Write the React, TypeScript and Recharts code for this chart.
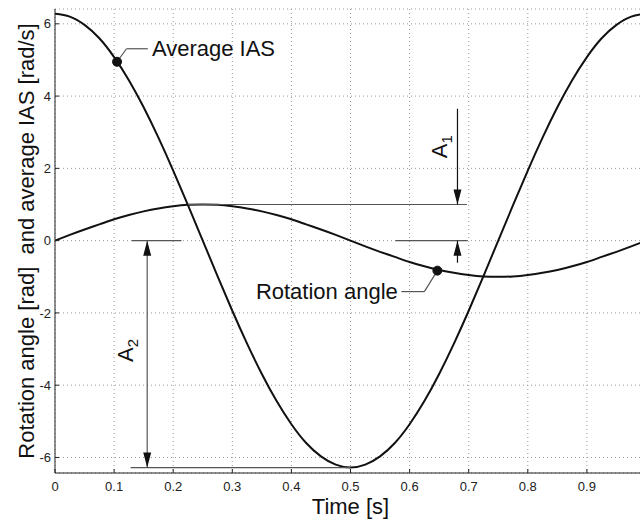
import React from 'react';
import {
  LineChart, Line, XAxis, YAxis, CartesianGrid, ReferenceLine, ReferenceDot,
} from 'recharts';

// samples, step 0.025 s
const time = [
  0, 0.025, 0.05, 0.075, 0.1, 0.125, 0.15, 0.175, 0.2, 0.225,
  0.25, 0.275, 0.3, 0.325, 0.35, 0.375, 0.4, 0.425, 0.45, 0.475,
  0.5, 0.525, 0.55, 0.575, 0.6, 0.625, 0.65, 0.675, 0.7, 0.725,
  0.75, 0.775, 0.8, 0.825, 0.85, 0.875, 0.9, 0.925, 0.95, 0.975, 1,
];
const averageIas = [
  6.28, 6.2, 5.97, 5.6, 5.08, 4.44, 3.69, 2.85, 1.94, 0.98,
  0, -0.98, -1.94, -2.85, -3.69, -4.44, -5.08, -5.6, -5.97, -6.2,
  -6.28, -6.2, -5.97, -5.6, -5.08, -4.44, -3.69, -2.85, -1.94, -0.98,
  0, 0.98, 1.94, 2.85, 3.69, 4.44, 5.08, 5.6, 5.97, 6.2, 6.28,
];
const rotationAngle = [
  0, 0.16, 0.31, 0.45, 0.59, 0.71, 0.81, 0.89, 0.95, 0.99,
  1, 0.99, 0.95, 0.89, 0.81, 0.71, 0.59, 0.45, 0.31, 0.16,
  0, -0.16, -0.31, -0.45, -0.59, -0.71, -0.81, -0.89, -0.95, -0.99,
  -1, -0.99, -0.95, -0.89, -0.81, -0.71, -0.59, -0.45, -0.31, -0.16, 0,
];

const xTicks = [0, 0.1, 0.2, 0.3, 0.4, 0.5, 0.6, 0.7, 0.8, 0.9];
const yTicks = [-6, -4, -2, 0, 2, 4, 6];

// annotation anchors (data units)
const iasMarker = { x: 0.105, y: 4.95 };
const angleMarker = { x: 0.647, y: -0.83 };
const a1 = { x: 0.681, top: 3.65, peak: 1, zero: 0, bottom: -0.61 };
const a2 = { x: 0.156, zero: 0, min: -6.28 };

const data = time.map((t, i) => ({ t, ias: averageIas[i], angle: rotationAngle[i] }));

const FONT = '"Liberation Sans", Arial, Helvetica, sans-serif';
const guide = '#555';
const ink = '#111';

const arrow = (dir: 'up' | 'down') => (p: any) => {
  const { cx, cy } = p;
  const b = dir === 'up' ? cy + 15 : cy - 15;
  return <path d={`M${cx},${cy} L${cx - 4},${b} L${cx + 4},${b} Z`} fill={ink} />;
};

const label = (text: string, anchor: 'start' | 'end') => (p: any) => (
  <text x={p.cx} y={p.cy} dy="0.35em" textAnchor={anchor} fontSize={22} fill="#111">{text}</text>
);

const subLabel = (main: string, sub: string) => (p: any) => (
  <text x={p.cx} y={p.cy} dy="0.35em" textAnchor="middle" fontSize={22} fill="#111"
    transform={`rotate(-90, ${p.cx}, ${p.cy})`}>
    {main}<tspan fontSize={15} dy={5}>{sub}</tspan>
  </text>
);

export default function App() {
  return (
    <div style={{ position: 'absolute', left: 0, top: 0, width: 640, height: 522, overflow: 'hidden', background: '#fff', fontFamily: FONT }}>
      <LineChart width={650} height={522} data={data} margin={{ top: 9, right: 4, bottom: 0, left: 0 }}>
        <CartesianGrid stroke="#999" strokeDasharray="1 3" />
        <XAxis
          dataKey="t" type="number" domain={[0, 1]} ticks={xTicks} height={49}
          stroke="#222" tickSize={-4} tickMargin={13}
          tick={{ fill: '#222', fontSize: 13 }}
          label={{ value: 'Time [s]', position: 'insideBottom', offset: 8, fontSize: 22, fill: '#111' }}
        />
        <XAxis
          xAxisId="top" orientation="top" dataKey="t" type="number" domain={[0, 1]} ticks={xTicks}
          height={0} stroke="#222" tickSize={-4} tickFormatter={() => ''}
        />
        <YAxis
          type="number" domain={[-6.43, 6.41]} ticks={yTicks} width={55}
          stroke="#222" tickSize={-4} tickMargin={8}
          tick={{ fill: '#222', fontSize: 13 }}
          label={{ value: 'Rotation angle [rad]\u00A0 and average IAS [rad/s]', angle: -90, position: 'center', dx: -1, fontSize: 22, fill: '#111' }}
        />

        <Line type="natural" dataKey="ias" stroke={ink} strokeWidth={2} dot={false} isAnimationActive={false} />
        <Line type="natural" dataKey="angle" stroke={ink} strokeWidth={2} dot={false} isAnimationActive={false} />

        {/* A1 */}
        <ReferenceLine segment={[{ x: 0.225, y: a1.peak }, { x: 0.697, y: a1.peak }]} stroke={guide} strokeWidth={1.2} />
        <ReferenceLine segment={[{ x: 0.576, y: a1.zero }, { x: 0.698, y: a1.zero }]} stroke={guide} strokeWidth={1.2} />
        <ReferenceLine segment={[{ x: a1.x, y: a1.top }, { x: a1.x, y: a1.peak }]} stroke={ink} strokeWidth={1.2} />
        <ReferenceLine segment={[{ x: a1.x, y: a1.zero }, { x: a1.x, y: a1.bottom }]} stroke={ink} strokeWidth={1.2} />
        <ReferenceDot x={a1.x} y={a1.peak} shape={arrow('down')} />
        <ReferenceDot x={a1.x} y={a1.zero} shape={arrow('up')} />
        <ReferenceDot x={0.651} y={2.6} shape={subLabel('A', '1')} />

        {/* A2 */}
        <ReferenceLine segment={[{ x: 0.13, y: a2.zero }, { x: 0.214, y: a2.zero }]} stroke={guide} strokeWidth={1.2} />
        <ReferenceLine segment={[{ x: 0.128, y: a2.min }, { x: 0.5, y: a2.min }]} stroke={guide} strokeWidth={1.2} />
        <ReferenceLine segment={[{ x: a2.x, y: a2.zero }, { x: a2.x, y: a2.min }]} stroke={guide} strokeWidth={1.2} />
        <ReferenceDot x={a2.x} y={a2.zero} shape={arrow('up')} />
        <ReferenceDot x={a2.x} y={a2.min} shape={arrow('down')} />
        <ReferenceDot x={0.119} y={-3.04} shape={subLabel('A', '2')} />

        {/* Average IAS callout */}
        <ReferenceLine segment={[iasMarker, { x: 0.121, y: 5.31 }]} stroke={guide} strokeWidth={1.2} />
        <ReferenceLine segment={[{ x: 0.121, y: 5.31 }, { x: 0.157, y: 5.31 }]} stroke={guide} strokeWidth={1.2} />
        <ReferenceDot x={iasMarker.x} y={iasMarker.y} r={4.5} fill={ink} stroke={ink} />
        <ReferenceDot x={0.164} y={5.31} shape={label('Average IAS', 'start')} />

        {/* Rotation angle callout */}
        <ReferenceLine segment={[angleMarker, { x: 0.625, y: -1.41 }]} stroke={guide} strokeWidth={1.2} />
        <ReferenceLine segment={[{ x: 0.625, y: -1.41 }, { x: 0.586, y: -1.41 }]} stroke={guide} strokeWidth={1.2} />
        <ReferenceDot x={angleMarker.x} y={angleMarker.y} r={4.5} fill={ink} stroke={ink} />
        <ReferenceDot x={0.58} y={-1.41} shape={label('Rotation angle', 'end')} />
      </LineChart>
    </div>
  );
}
